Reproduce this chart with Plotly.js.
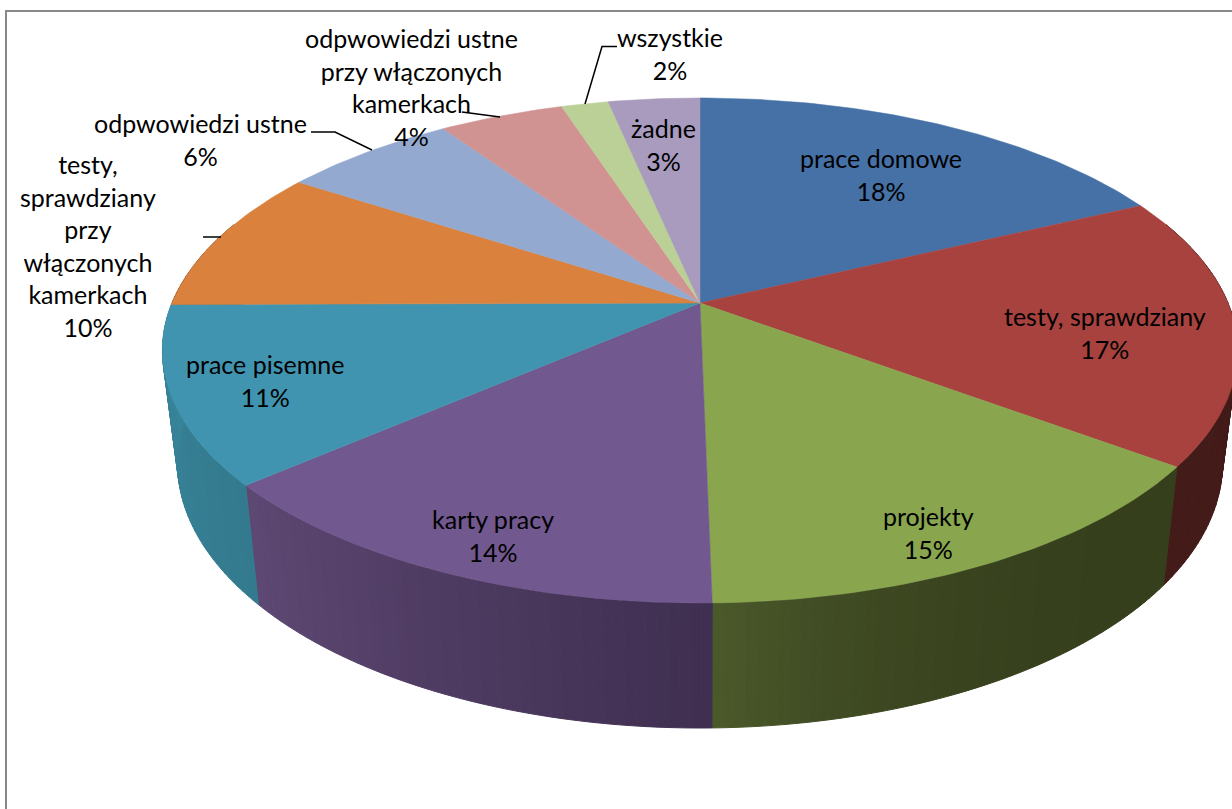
<!DOCTYPE html>
<html><head><meta charset="utf-8">
<script src="https://cdn.plot.ly/plotly-3.0.1.min.js"></script>
<style>html,body{margin:0;padding:0;background:#fff}#c{width:1232px;height:809px}</style>
</head><body><div id="c"></div>
<script>
const categories = ["prace domowe","testy, sprawdziany","projekty","karty pracy","prace pisemne","testy, sprawdziany przy włączonych kamerkach","odpwowiedzi ustne","odpwowiedzi ustne przy włączonych kamerkach","wszystkie","żadne"];
const shares = [17.9,17.3,14.5,13.9,11.3,9.3,6.3,4.5,1.7,3.3];
const percentLabels = ["18%","17%","15%","14%","11%","10%","6%","4%","2%","3%"];
const labelTexts = ["prace domowe","testy, sprawdziany","projekty","karty pracy","prace pisemne","testy,<br>sprawdziany<br>przy<br>włączonych<br>kamerkach","odpwowiedzi ustne","odpwowiedzi ustne<br>przy włączonych<br>kamerkach","wszystkie","żadne"];
const labelX = [881,1105,928,493,265,88,200,411,670,663];
const labelY = [174,332,532,535,380,245.5,139.5,86.5,53,144];
const topColors = ["#4671A6","#A8423F","#89A54E","#71588F","#4194AF","#DA823D","#93A9CF","#D19392","#BAD096","#A99BBD"];
const sideLight = ["#2a4465","#431b19","#4b5a2b","#5e4874","#38859b","#8a5226","#5d6b83","#845d5c","#76845f","#6b6277"];
const sideDark = ["#2a4465","#431b19","#363f1c","#3f2f50","#347a8e","#8a5226","#5d6b83","#845d5c","#76845f","#6b6277"];
const lightPower = [1,1,3,1,1,1,1,1,1,1];
const leaders = [
  {x:[617,602,585],y:[46.5,46.5,104]},
  {x:[462,500],y:[112,117]},
  {x:[311,335,372],y:[132,132,150]},
  {x:[203,221],y:[237,237]}
];

// Perspective projection of the pie disc onto the page
const CX=700, CY=303, A=528, B=243.6, P=0.188, SX=0.972, SY=1.05, DY=110;
function topPt(deg){
  const t=deg*Math.PI/180, u=Math.sin(t), v=Math.cos(t), w=1+P*v;
  return [CX+A*u/w, CY-B*v/w];
}
function botPt(deg){
  const p=topPt(deg);
  return [CX+SX*(p[0]-CX), CY+DY+SY*(p[1]-CY)];
}
function mix(a,b,f){
  const h=s=>[1,3,5].map(i=>parseInt(s.substr(i,2),16));
  const A1=h(a),B1=h(b);
  return "rgb("+A1.map((c,i)=>Math.round(c+(B1[i]-c)*f)).join(",")+")";
}
const traces=[];
let cum=0;
const total=shares.reduce((a,b)=>a+b,0);
const rng=shares.map(s=>{const r=[cum*360/total,(cum+s)*360/total];cum+=s;return r;});

// side wall strips
const STEP=1;
rng.forEach((r,i)=>{
  const from=Math.max(r[0],70), to=Math.min(r[1],290);
  if(to<=from) return;
  const n=Math.max(1,Math.ceil((to-from)/STEP));
  for(let k=0;k<n;k++){
    const a=from+(to-from)*k/n, b=from+(to-from)*(k+1)/n;
    const pa=topPt(a),pb=topPt(b),qa=botPt(a),qb=botPt(b);
    const f=(a-r[0])/(r[1]-r[0]);
    const col=mix(sideDark[i],sideLight[i],Math.pow(f,lightPower[i]));
    traces.push({type:"scatter",mode:"lines",x:[pa[0],pb[0],qb[0],qa[0],pa[0]],y:[pa[1],pb[1],qb[1],qa[1],pa[1]],
      fill:"toself",fillcolor:col,line:{color:col,width:1},hoverinfo:"skip",showlegend:false});
  }
});
// top face
rng.forEach((r,i)=>{
  const xs=[CX],ys=[CY];
  const n=Math.ceil(r[1]-r[0])+1;
  for(let k=0;k<=n;k++){const p=topPt(r[0]+(r[1]-r[0])*k/n);xs.push(p[0]);ys.push(p[1]);}
  xs.push(CX);ys.push(CY);
  traces.push({type:"scatter",mode:"lines",name:categories[i],x:xs,y:ys,fill:"toself",fillcolor:topColors[i],
    line:{color:topColors[i],width:0.5},hoverinfo:"name",showlegend:false});
});
leaders.forEach(l=>traces.push({type:"scatter",mode:"lines",x:l.x,y:l.y,line:{color:"#000",width:1.5},hoverinfo:"skip",showlegend:false}));

const annotations=labelTexts.map((t,i)=>({x:labelX[i],y:labelY[i],xref:"x",yref:"y",text:t+"<br>"+percentLabels[i],showarrow:false,
  xanchor:"center",yanchor:"middle",align:"center",font:{family:"Lato, Carlito, sans-serif",size:25,color:"#000"}}));

Plotly.newPlot("c",traces,{
  width:1232,height:809,margin:{l:0,r:0,t:0,b:0},paper_bgcolor:"#fff",plot_bgcolor:"#fff",
  xaxis:{range:[0,1232],visible:false,fixedrange:true},
  yaxis:{range:[809,0],visible:false,fixedrange:true},
  showlegend:false,annotations,
  shapes:[
    {type:"line",xref:"x",yref:"y",x0:5,x1:1232,y0:11,y1:11,line:{color:"#888",width:2}},
    {type:"line",xref:"x",yref:"y",x0:6,x1:6,y0:10,y1:809,line:{color:"#888",width:2}}
  ]
},{displayModeBar:false,staticPlot:true});
</script></body></html>
